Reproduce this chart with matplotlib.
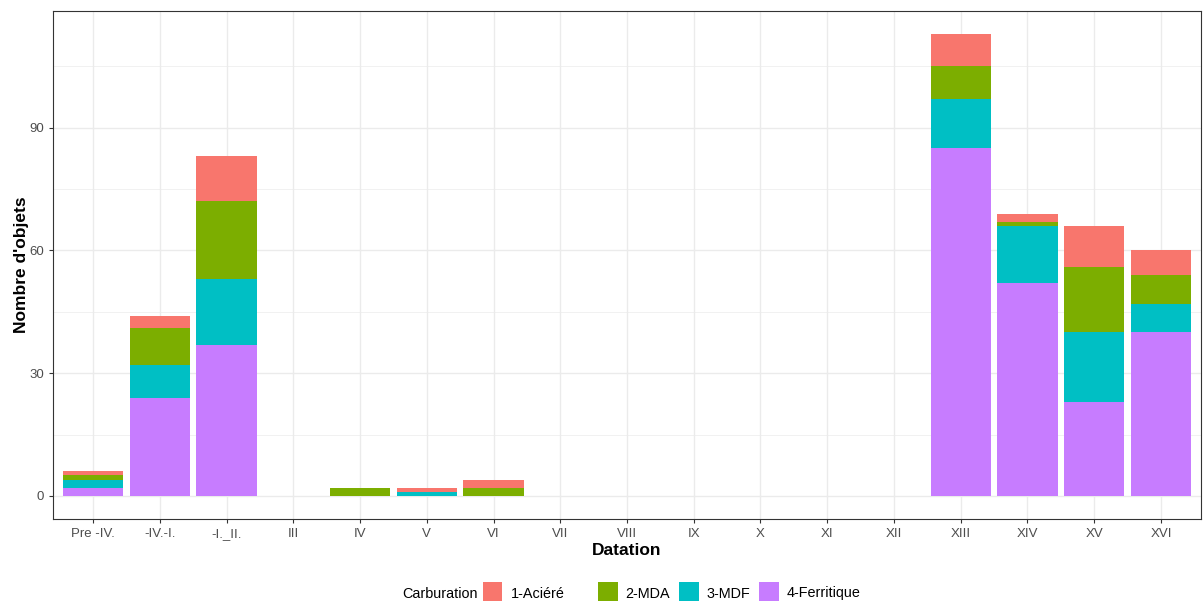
import matplotlib.pyplot as plt
from matplotlib.patches import Rectangle
import numpy as np

plt.rcParams['font.family'] = ['Liberation Sans', 'DejaVu Sans']

# categories and counts per carburation class
datation = ['Pre -IV.', '-IV.-I.', '-I._II.', 'III', 'IV', 'V', 'VI', 'VII', 'VIII',
            'IX', 'X', 'XI', 'XII', 'XIII', 'XIV', 'XV', 'XVI']
ferritique = [2, 24, 37, 0, 0, 0, 0, 0, 0, 0, 0, 0, 0, 85, 52, 23, 40]
mdf        = [2, 8, 16, 0, 0, 1, 0, 0, 0, 0, 0, 0, 0, 12, 14, 17, 7]
mda        = [1, 9, 19, 0, 2, 0, 2, 0, 0, 0, 0, 0, 0, 8, 1, 16, 7]
aciere     = [1, 3, 11, 0, 0, 1, 2, 0, 0, 0, 0, 0, 0, 8, 2, 10, 6]
labels = ['1-Aciéré', '2-MDA', '3-MDF', '4-Ferritique']
colors = ['#F8766D', '#7CAE00', '#00BFC4', '#C77CFF']

W, H = 1203, 603
fig = plt.figure(figsize=(W/100, H/100), dpi=100)
ax = fig.add_axes([53/W, 1 - 519/H, 1148/W, 508.5/H])

x = np.arange(1, len(datation) + 1)
# stack from bottom: ferritique, mdf, mda, aciere
series = [ferritique, mdf, mda, aciere]
cols = [colors[3], colors[2], colors[1], colors[0]]
bottom = np.zeros(len(datation))
for s, c in zip(series, cols):
    s = np.array(s)
    ax.bar(x, s, width=0.9, bottom=bottom, color=c, linewidth=0, zorder=3)
    bottom = bottom + s

top = bottom.max()
ax.set_ylim(-0.05 * top, top * 1.05)
ax.set_xlim(0.4, len(datation) + 0.6)
ax.set_xticks(x)
ax.set_xticklabels(datation)
ax.set_yticks([0, 30, 60, 90])
ax.set_yticks([15, 45, 75, 105], minor=True)
ax.grid(which='major', color='#EBEBEB', linewidth=1.0, zorder=0)
ax.grid(which='minor', axis='y', color='#EBEBEB', linewidth=0.5, zorder=0)
ax.set_axisbelow(True)
ax.tick_params(which='major', colors='#333333', labelcolor='#4D4D4D', labelsize=9.5, length=3)
ax.tick_params(which='minor', length=0)
for sp in ax.spines.values():
    sp.set_color('#333333')
    sp.set_linewidth(0.8)

ax.set_xlabel('Datation', fontsize=12.5, fontweight='bold', labelpad=2)
ax.set_ylabel("Nombre d'objets", fontsize=12.5, fontweight='bold', labelpad=0)

# legend at the bottom, laid out like ggplot's horizontal guide
ly = 1 - 597.5/H
fig.text(402/W, ly, 'Carburation', fontsize=10.4, va='baseline', ha='left')
key_x = [483, 598, 679, 759]
for kx, lab, c in zip(key_x, labels, colors):
    fig.add_artist(Rectangle((kx/W, 1 - 601/H), 19.5/W, 19/H, transform=fig.transFigure,
                             facecolor=c, edgecolor='none'))
    fig.text((kx + 27.5)/W, ly, lab, fontsize=10.4, va='baseline', ha='left')

fig.savefig('out.png', dpi=100)
